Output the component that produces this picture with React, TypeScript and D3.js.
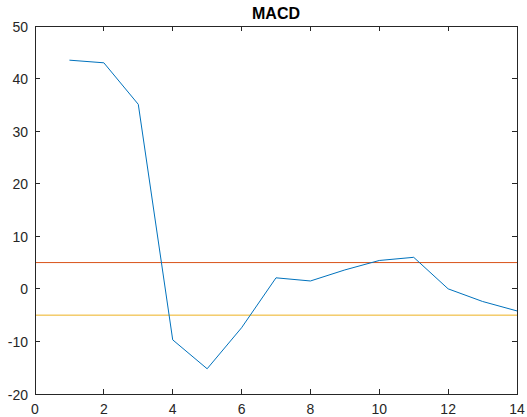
import React from "react";
import * as d3 from "d3";

const xs = [1, 2, 3, 4, 5, 6, 7, 8, 9, 10, 11, 12, 13, 14];
const macd = [43.5, 43.0, 35.1, -9.7, -15.2, -7.4, 2.1, 1.5, 3.6, 5.4, 6.0, 0.0, -2.4, -4.2];
const upper = 5;
const lower = -5;
const xTicks = [0, 2, 4, 6, 8, 10, 12, 14];
const yTicks = [-20, -10, 0, 10, 20, 30, 40, 50];
const title = "MACD";

export default function App() {
  const W = 527, H = 417;
  const L = 35, R = 517, T = 26, B = 394;
  const x = d3.scaleLinear().domain([0, 14]).range([L, R]);
  const y = d3.scaleLinear().domain([-20, 50]).range([B, T]);
  const line = d3.line<number>().x((_, i) => x(xs[i])).y((d) => y(d));
  const axisColor = "#262626";
  const font = "Liberation Sans, Arial, Helvetica, sans-serif";
  const tl = 5;
  return (
    <svg width={W} height={H} style={{ position: "absolute", left: 0, top: 0, background: "#fff" }}>
      <rect x={0} y={0} width={W} height={H} fill="#fff" />
      <line x1={L} x2={R} y1={y(upper)} y2={y(upper)} stroke="#D95319" strokeWidth={1} />
      <line x1={L} x2={R} y1={y(lower)} y2={y(lower)} stroke="#EDB120" strokeWidth={1} />
      <path d={line(macd) || ""} fill="none" stroke="#0072BD" strokeWidth={1} />
      <rect x={L} y={T} width={R - L} height={B - T} fill="none" stroke={axisColor} strokeWidth={1} shapeRendering="crispEdges" />
      {xTicks.map((t) => (
        <g key={"x" + t}>
          <line x1={x(t)} x2={x(t)} y1={B} y2={B - tl} stroke={axisColor} shapeRendering="crispEdges" />
          <line x1={x(t)} x2={x(t)} y1={T} y2={T + tl} stroke={axisColor} shapeRendering="crispEdges" />
          <text x={x(t)} y={B + 20} textAnchor="middle" fontFamily={font} fontSize={14} fill={axisColor}>{t}</text>
        </g>
      ))}
      {yTicks.map((t) => (
        <g key={"y" + t}>
          <line x1={L} x2={L + tl} y1={y(t)} y2={y(t)} stroke={axisColor} shapeRendering="crispEdges" />
          <line x1={R} x2={R - tl} y1={y(t)} y2={y(t)} stroke={axisColor} shapeRendering="crispEdges" />
          <text x={L - 7} y={y(t) + 5.5} textAnchor="end" fontFamily={font} fontSize={14} fill={axisColor}>{t}</text>
        </g>
      ))}
      <text x={(L + R) / 2} y={19} textAnchor="middle" fontFamily={font} fontSize={16} fontWeight="bold" fill="#000">{title}</text>
    </svg>
  );
}
